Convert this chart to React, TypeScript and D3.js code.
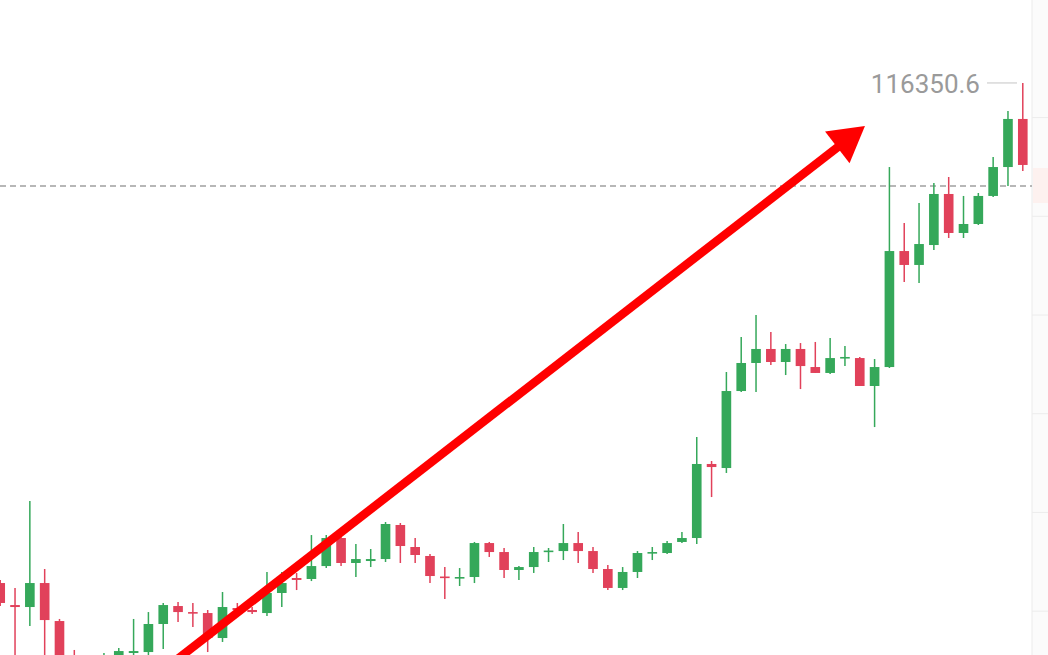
import React from "react";
import * as d3 from "d3";

const OPEN = [111285,111062,111042,111285,110900,110444,110222,110384,110485,110576,110586,110870,111052,110991,110981,110728,111032,111012,110981,111184,111336,111326,111457,111741,111488,111508,111528,111873,111650,111559,111351,111331,111346,111690,111599,111417,111447,111604,111609,111690,111609,111427,111235,111397,111589,111589,111701,111741,112491,112450,113230,113514,113656,113524,113656,113473,113413,113564,113564,113281,113473,114648,114507,114709,115226,114831,114922,115206,115499,115986];
const HIGH = [111316,111235,112116,111427,110921,110607,110455,110576,110627,110921,110991,111083,111093,111083,111012,111194,111083,111042,111397,111397,111387,111771,111771,111761,111680,111630,111903,111893,111741,111579,111447,111437,111701,111701,111640,111457,111650,111640,111883,111802,111650,111468,111447,111609,111650,111711,111802,112764,112521,113423,113777,114000,113828,113706,113716,113727,113767,113686,113575,113554,115499,114932,115135,115337,115398,115206,115236,115601,116067,116350.6];
const LOW = [111052,110424,110850,110485,110303,110252,110100,110303,110424,110485,110536,110617,110890,110839,110586,110688,110941,110971,110951,111042,111214,111305,111437,111457,111346,111447,111498,111488,111488,111285,111123,111255,111285,111549,111336,111316,111387,111498,111518,111488,111387,111214,111214,111336,111518,111579,111690,111680,112156,112400,113220,113220,113494,113392,113250,113413,113402,113483,113281,112865,113463,114334,114324,114658,114780,114780,114912,115195,115307,115459];
const CLOSE = [111083,111042,111285,110910,110384,110303,110384,110505,110596,110596,110870,111062,110991,110976,110728,111042,111012,110991,111184,111285,111316,111457,111741,111488,111528,111528,111883,111660,111569,111356,111336,111346,111690,111599,111417,111447,111599,111614,111690,111609,111427,111235,111397,111589,111599,111690,111741,112491,112460,113230,113514,113656,113524,113656,113483,113413,113564,113575,113281,113473,114648,114507,114719,115226,114831,114922,115206,115499,115986,115520];

const PRICE_TOP = 117191;
const PRICE_BOTTOM = 110556;
const GRID_PRICES = [111000, 112000, 113000, 114000, 115000, 116000];
const DASHED_PRICE = 115307;
const MAX_LABEL = "116350.6";
const MAX_PRICE = 116350.6;
// arrow: start (index, price) and tip (index, price) in data space
const ARROW_START = { idx: 11.45, price: 110455 };
const ARROW_TIP = { idx: 58.35, price: 115915 };

const W = 1048;
const H = 655;
const AXIS_X = 1032;
const GREEN = "#35a85a";
const RED = "#e1415a";

export default function App() {
  const n = OPEN.length;
  const x = d3
    .scaleBand<number>()
    .domain(d3.range(n))
    .range([-7.2, 1030.2])
    .paddingInner(0.35)
    .paddingOuter(0.175);
  const y = d3.scaleLinear().domain([PRICE_BOTTOM, PRICE_TOP]).range([H, 0]);
  const bw = x.bandwidth();
  const cx = (i: number) => (x(i) as number) + bw / 2;
  const step = x.step();
  const xi = (v: number) => cx(0) + v * step;

  // arrow geometry
  const sx = xi(ARROW_START.idx), sy = y(ARROW_START.price);
  const tx = xi(ARROW_TIP.idx), ty = y(ARROW_TIP.price);
  const dx = tx - sx, dy = ty - sy;
  const len = Math.hypot(dx, dy);
  const ux = dx / len, uy = dy / len;
  const headLen = 35, headHalf = 20;
  const bx = tx - ux * headLen, by = ty - uy * headLen;
  const px = -uy, py = ux;
  const head = `M${tx},${ty} L${bx + px * headHalf},${by + py * headHalf} L${bx - px * headHalf},${by - py * headHalf} Z`;

  const maxY = y(MAX_PRICE);

  return (
    <svg
      width={W}
      height={H}
      style={{ position: "absolute", left: 0, top: 0, background: "#fff", fontFamily: "Roboto, sans-serif" }}
    >
      <rect x={0} y={0} width={W} height={H} fill="#ffffff" />
      {/* right axis panel */}
      <rect x={AXIS_X} y={0} width={W - AXIS_X} height={H} fill="#fbfbfb" />
      <line x1={AXIS_X} x2={AXIS_X} y1={0} y2={H} stroke="#eeeeee" strokeWidth={1.2} />
      {GRID_PRICES.map((p) => (
        <line key={p} x1={AXIS_X} x2={W} y1={y(p)} y2={y(p)} stroke="#ececec" strokeWidth={1} />
      ))}
      <rect x={AXIS_X + 1} y={y(DASHED_PRICE) - 18} width={W - AXIS_X - 1} height={35} fill="#fdf1ef" />

      {/* dashed price line */}
      <line
        x1={0}
        x2={AXIS_X}
        y1={y(DASHED_PRICE)}
        y2={y(DASHED_PRICE)}
        stroke="#a0a0a0"
        strokeWidth={1.4}
        strokeDasharray="6 4"
      />

      {/* candles */}
      {OPEN.map((o, i) => {
        const c = CLOSE[i];
        const up = c >= o;
        const col = up ? GREEN : RED;
        const top = y(Math.max(o, c));
        const bot = y(Math.min(o, c));
        const h = Math.max(bot - top, 1.6);
        return (
          <g key={i}>
            <line x1={cx(i)} x2={cx(i)} y1={y(HIGH[i])} y2={y(LOW[i])} stroke={col} strokeWidth={1.5} />
            <rect x={x(i)} y={top} width={bw} height={h} fill={col} />
          </g>
        );
      })}

      {/* max label */}
      <text x={980} y={maxY + 10} textAnchor="end" fontSize={26} fill="#9a9a9a">
        {MAX_LABEL}
      </text>
      <line x1={987} x2={1017} y1={maxY} y2={maxY} stroke="#c4c4c4" strokeWidth={1} />

      {/* red arrow */}
      <line x1={sx} y1={sy} x2={bx + ux * 3} y2={by + uy * 3} stroke="#ff0000" strokeWidth={8.5} />
      <path d={head} fill="#ff0000" />
    </svg>
  );
}
